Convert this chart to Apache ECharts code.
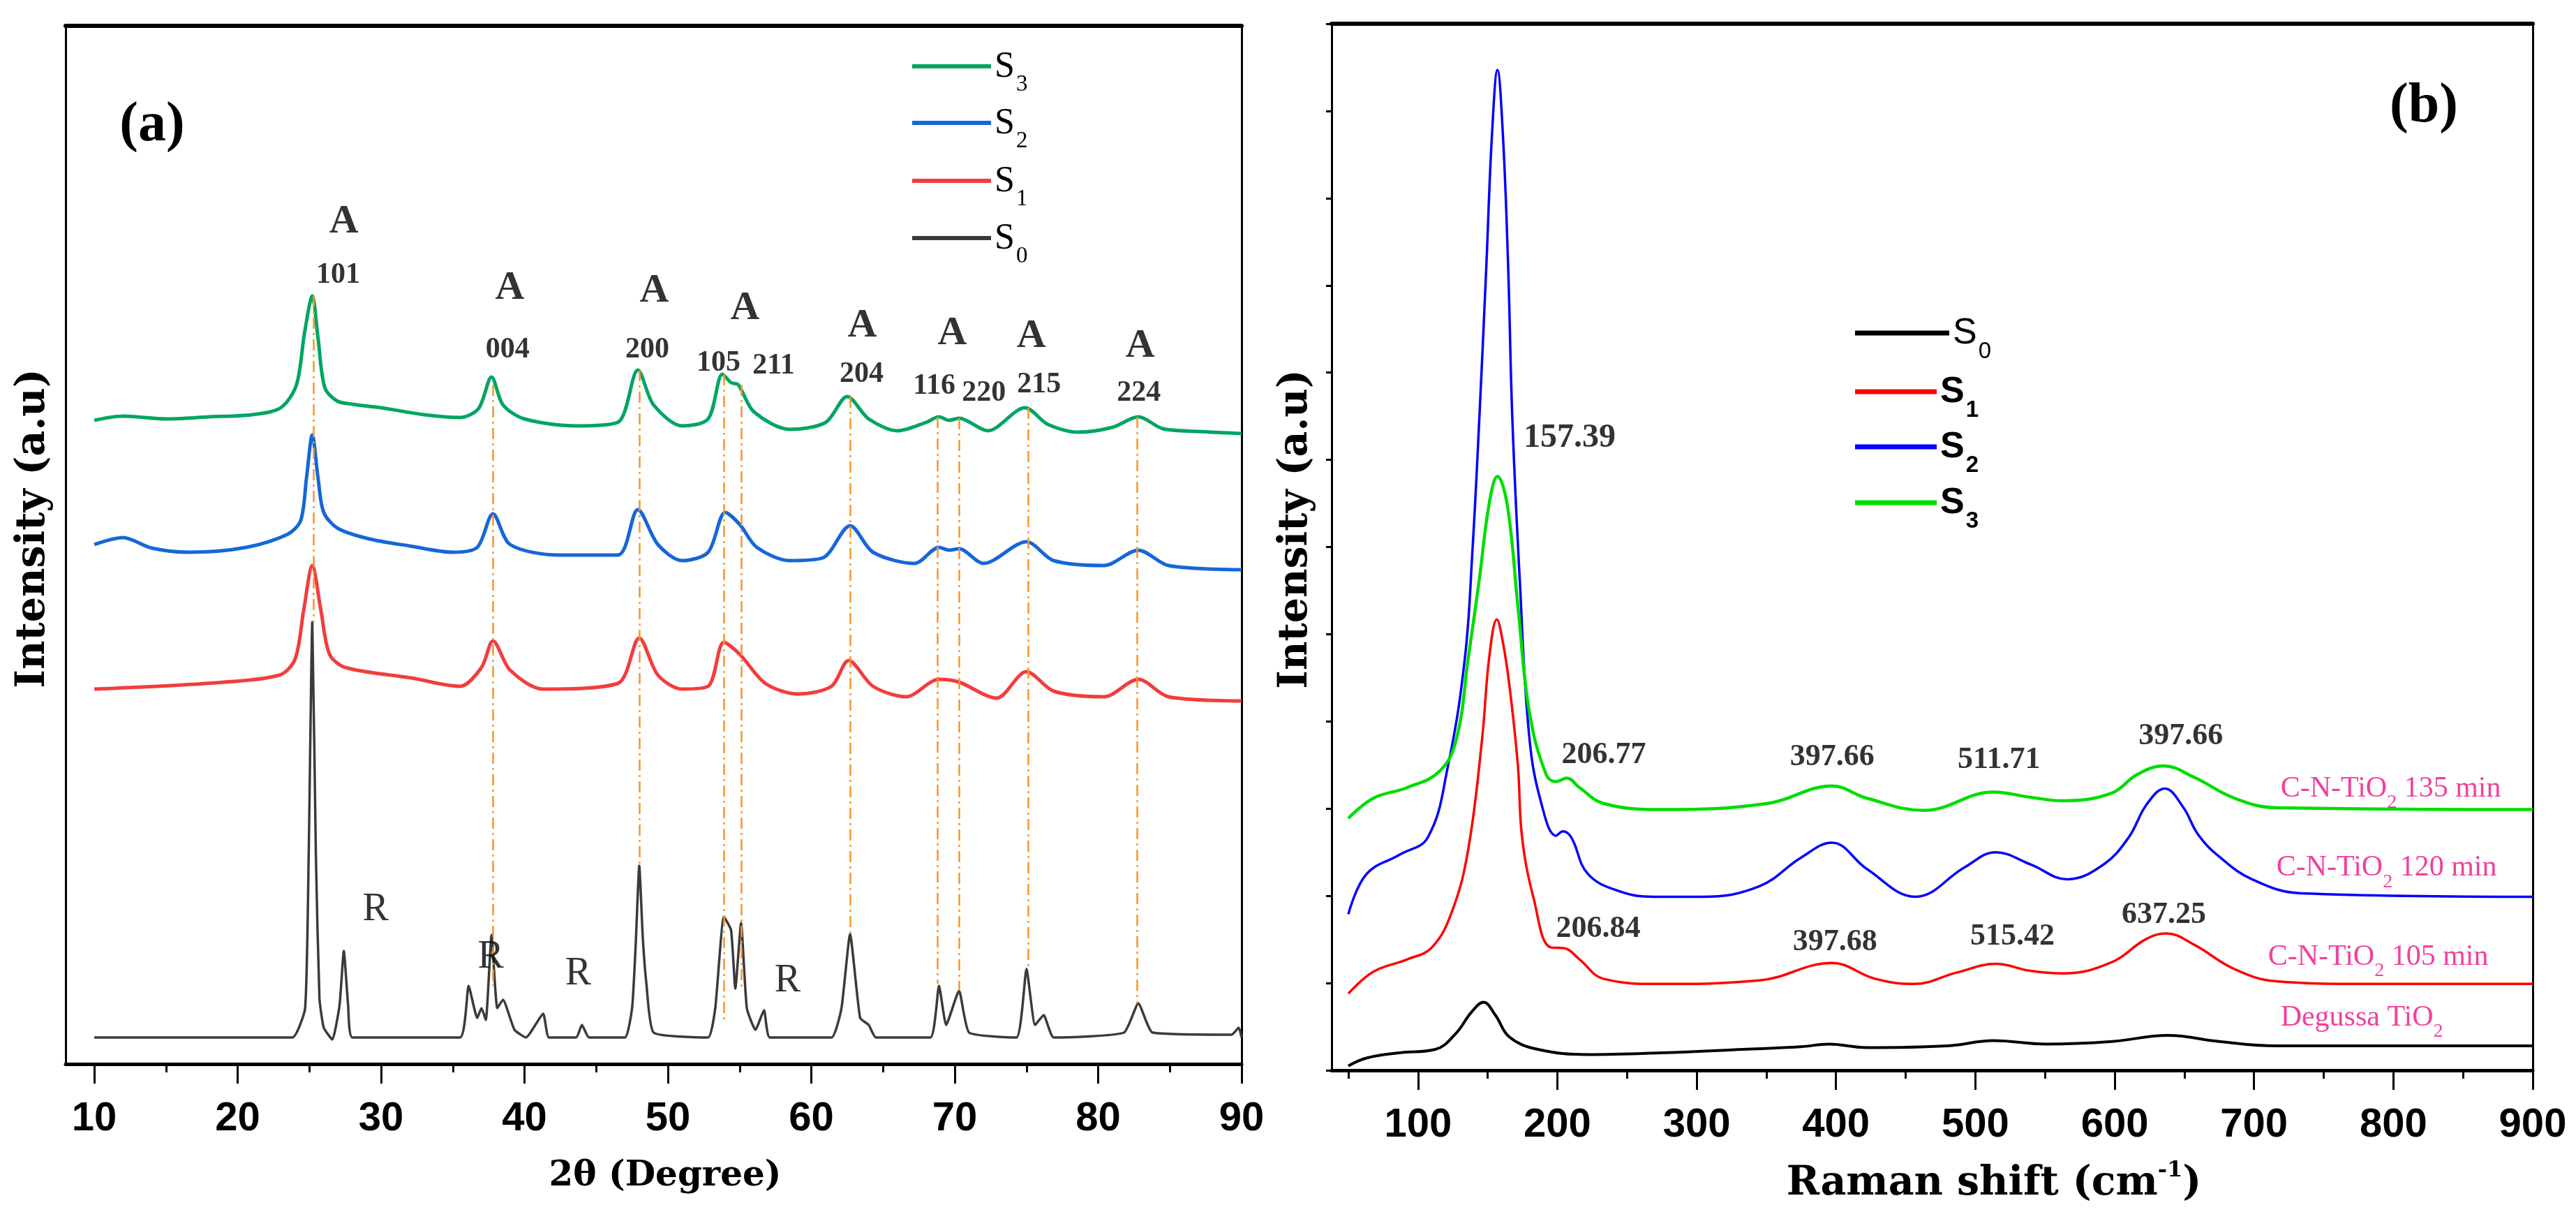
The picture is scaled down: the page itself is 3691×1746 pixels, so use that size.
<!DOCTYPE html>
<html><head><meta charset="utf-8">
<script src="https://cdn.jsdelivr.net/npm/echarts@6/dist/echarts.min.js"></script>
<style>html,body{margin:0;padding:0;background:#fff}#c{width:3691px;height:1746px}</style>
</head><body><div id="c"></div>
<script>
// ---------------- Panel (a): XRD, 2θ (deg) vs intensity (a.u.) ----------------
const xrdS3 = [[10,922],[12,928],[15,924],[18,927],[21,930],[23,940],[24.1,973],[24.65,1046],[25.2,1100],[25.6,1040],[26.07,969],[26.9,950],[28,945],[30,940],[33,930],[35.5,926],[36.8,939],[37.7,984],[38.5,944],[40,924],[43.6,914],[46.5,919],[47.9,994],[49,944],[51,914],[52.8,924],[53.8,988],[54.4,976],[54.9,973],[56,934],[58.5,909],[61,919],[62.5,956],[64,924],[66,907],[68,919],[68.9,927],[69.6,922],[70.3,925],[72.3,907],[74.9,940],[76.5,916],[78.6,905],[81,912],[82.8,927],[84.5,910],[87,906],[90,903]];
const xrdS2 = [[10,744],[12,754],[14,739],[16.6,733],[20.6,740],[23.5,759],[24.4,779],[24.8,840],[25.2,901],[25.6,840],[26,790],[27,767],[29.2,752],[32,742],[35,733],[36.7,740],[37.8,788],[39,744],[42.4,729],[46.5,729],[47.9,794],[49.3,744],[51,721],[52.8,733],[54,790],[55,773],[56.2,740],[58.5,721],[60.8,725],[62.7,771],[64.3,733],[67.2,717],[68.9,740],[69.6,736],[70.3,738],[72,717],[75,748],[76.9,721],[80.4,714],[82.8,736],[84.9,714],[90,708]];
const xrdS1 = [[10,537],[17.7,545],[22.9,557],[24,580],[24.6,650],[25.2,714],[25.8,650],[26.4,587],[27.5,568],[32.1,553],[35.5,541],[37,568],[37.8,606],[39,564],[41.3,537],[46.5,545],[48,610],[49.3,557],[51,537],[52.8,541],[53.9,604],[55,587],[56.8,545],[59.1,530],[61.4,541],[62.6,578],[64.3,541],[66.6,526],[68.9,551],[70.3,547],[72.9,524],[75,562],[76.9,534],[80.4,526],[82.8,551],[84.9,526],[90,520]];
const xrdS0 = [[10,38],[23.8,38],[24.7,80],[24.95,300],[25.2,633],[25.45,300],[25.7,94],[26,52],[26.6,35],[27.1,84],[27.4,162],[27.7,84],[28,38],[35.5,38],[36.1,112],[36.7,66],[37,80],[37.3,63],[37.7,185],[38.1,80],[38.5,92],[39.3,49],[40.1,38],[41.3,72],[41.7,38],[43.6,38],[44,56],[44.5,38],[47,38],[47.5,80],[47.75,170],[48,284],[48.25,180],[48.5,115],[49,45],[52.8,38],[53.3,80],[53.9,211],[54.4,192],[54.7,108],[55.1,202],[55.5,80],[56.1,49],[56.7,77],[57.1,38],[61.4,38],[62.1,80],[62.7,186],[63.4,66],[64,56],[64.5,38],[68.3,38],[68.9,112],[69.4,56],[70.3,105],[71,45],[74.3,38],[75,136],[75.6,56],[76.2,70],[76.9,38],[81.8,45],[82.8,87],[83.8,45],[89.3,42],[89.8,52],[90,38]];
// anatase reference lines: [2θ, top, bottom]
const anataseLines = [[25.3,1100,633],[37.8,973,112],[48,994,284],[53.9,988,59],[55.1,973,108],[62.7,956,185],[68.8,927,115],[70.3,925,105],[75.1,940,136],[82.7,927,87]];
const labelsA = [[27.4,1206,'A'],[38.97,1111,'A'],[49.05,1107,'A'],[55.37,1082,'A'],[63.55,1057,'A'],[69.83,1046,'A'],[75.34,1042,'A'],[82.93,1028,'A']];
const labelsHkl = [[27.0,1130,'101'],[38.82,1023,'004'],[48.56,1023,'200'],[53.53,1004,'105'],[57.37,1000,'211'],[63.5,988,'204'],[68.57,971,'116'],[72.03,961,'220'],[75.87,973,'215'],[82.83,961,'224']];
const labelsR = [[29.62,221,'R'],[37.65,153,'R'],[43.74,129,'R'],[58.34,119,'R']];
const ticksA = [10,20,30,40,50,60,70,80,90];
const minorTicksA = [15,25,35,45,55,65,75,85];

// ---------------- Panel (b): Raman shift (cm-1) vs intensity ----------------
const ramanS0 = [[50,0.05],[63,0.14],[86.5,0.2],[112.5,0.24],[127.6,0.43],[138,0.66],[147,0.78],[155.6,0.63],[165.7,0.38],[186,0.24],[222,0.18],[274,0.2],[333.6,0.24],[374.7,0.27],[395,0.30],[422,0.26],[480,0.28],[513,0.34],[551,0.30],[598,0.33],[638,0.40],[675,0.33],[716,0.28],[804,0.28],[900,0.28]];
const ramanS1 = [[50,0.88],[68,1.13],[92,1.27],[110,1.41],[124.6,1.83],[136,2.53],[146,3.80],[151,4.72],[156.6,5.17],[161,4.9],[165.7,4.40],[171.7,3.49],[174.7,2.67],[183,1.97],[195,1.41],[205,1.40],[216,1.27],[233,1.05],[274,0.99],[345,1.03],[397,1.23],[428,1.05],[456,0.99],[486.5,1.12],[514.5,1.22],[539.6,1.14],[563,1.11],[598,1.24],[622,1.50],[637,1.57],[657,1.44],[686,1.16],[716,1.02],[775,0.99],[900,0.99]];
const ramanS2 = [[50,1.79],[63,2.25],[86.5,2.47],[107,2.67],[121.5,3.49],[133.6,4.72],[139,5.94],[144,7.47],[149,9.21],[153,10.7],[157,11.47],[161,10.7],[164.7,9.21],[167.7,7.47],[173,5.63],[180,3.80],[189,3.03],[199,2.69],[204,2.74],[210,2.67],[222,2.25],[245,2.05],[269,1.99],[304,1.99],[345,2.11],[375,2.44],[397,2.61],[422,2.31],[457,1.99],[492.5,2.33],[514.5,2.50],[539.6,2.36],[566,2.19],[592,2.36],[610,2.67],[623,3.05],[636,3.23],[649,3.02],[660,2.70],[675,2.45],[698.5,2.19],[733.6,2.03],[900,1.99]];
const ramanS3 = [[50,2.89],[68,3.12],[92,3.24],[115.5,3.43],[127.6,3.80],[136,4.72],[144,5.63],[151,6.49],[157,6.81],[164,6.49],[171.7,5.32],[180,4.10],[192,3.39],[199,3.31],[206.8,3.35],[216,3.24],[233,3.06],[274,2.99],[351,3.06],[397,3.26],[422,3.12],[463,2.98],[513,3.19],[539.6,3.13],[563,3.09],[598,3.18],[616,3.39],[635,3.49],[657,3.36],[686,3.12],[716,3.01],[900,2.99]];
const mainPeakLabelB = [[208.8,7.25,'157.39']];
const peakLabelsB = [[233.3,3.61,'206.77'],[397.2,3.59,'397.66'],[517,3.56,'511.71'],[647.4,3.83,'397.66'],[229.3,1.62,'206.84'],[399.2,1.47,'397.68'],[526.6,1.53,'515.42'],[635.3,1.78,'637.25']];
const sampleLabelsB = [[719,3.23,'C-N-TiO{sb|2} 135 min'],[716,2.32,'C-N-TiO{sb|2} 120 min'],[710,1.30,'C-N-TiO{sb|2} 105 min'],[719,0.60,'Degussa TiO{sb|2}']];
const ticksB = [100,200,300,400,500,600,700,800,900];
const minorTicksB = [50,150,250,350,450,550,650,750,850];

// ---------------- build ----------------
const chart = echarts.init(document.getElementById('c'), null, {renderer:'canvas', width:3691, height:1746});
const SERIF = '"Liberation Serif", "Times New Roman", serif';
const TSERIF = '"DejaVu Serif", serif';
const SANS = '"Liberation Sans", Arial, sans-serif';

function lineS(name, data, color, width, xi, yi, smooth, z){
  return {type:'line', name, data, xAxisIndex:xi, yAxisIndex:yi, showSymbol:false, symbol:'none',
    smooth, lineStyle:{color, width}, itemStyle:{color}, silent:true, z:z||3};
}
function textS(arr, xi, yi, label, extra){
  return Object.assign({type:'scatter', xAxisIndex:xi, yAxisIndex:yi, symbolSize:1,
    itemStyle:{color:'rgba(0,0,0,0)'}, silent:true, z:6,
    data: arr.map(d=>({value:[d[0],d[1]], name:d[2]})),
    label:Object.assign({show:true, position:'inside', formatter:p=>p.name, color:'#000'}, label)}, extra||{});
}
function xAxes(gi, min, max, major, minor, labelSize){
  return [
    {gridIndex:gi, type:'value', min, max, position:'bottom',
     axisLine:{show:true, onZero:false, lineStyle:{color:'#000', width:5}},
     axisTick:{show:true, customValues:major, length:28, lineStyle:{color:'#000', width:3}},
     axisLabel:{show:true, customValues:major, margin:50, fontSize:labelSize, fontFamily:SANS, fontWeight:'bold', color:'#000'},
     splitLine:{show:false}},
    {gridIndex:gi, type:'value', min, max, position:'bottom',
     axisLine:{show:false, onZero:false},
     axisTick:{show:true, customValues:minor, length:12, lineStyle:{color:'#000', width:3}},
     axisLabel:{show:false}, splitLine:{show:false}},
    {gridIndex:gi, type:'value', min, max, position:'top',
     axisLine:{show:true, onZero:false, lineStyle:{color:'#000', width:6}},
     axisTick:{show:false}, axisLabel:{show:false}, splitLine:{show:false}}
  ];
}
function legendItem(name, left, centerY, w, h, fam, bold){
  const k = name.slice(-1);
  return {show:true, data:[{name, icon:'rect'}], left, top:centerY-27, padding:0, orient:'vertical',
    itemWidth:w, itemHeight:h, itemGap:0, selectedMode:false,
    formatter:()=>'{s|S}{sub|'+k+'}',
    textStyle:{rich:{
      s:{fontSize:52, fontFamily:fam, fontWeight: bold ? 'bold':'normal', color:'#000', lineHeight:54, verticalAlign:'bottom'},
      sub:{fontSize:33, fontFamily:fam, fontWeight: bold ? 'bold':'normal', color:'#000', lineHeight:30, verticalAlign:'bottom', padding:[0,0,-16,2]}
    }}};
}

const option = {
  backgroundColor:'#fff',
  animation:false,
  grid:[
    {left:94, right:3691-1779, top:37, bottom:1746-1524, outerBoundsMode:'none', containLabel:false},
    {left:1908, right:3691-3629, top:34, bottom:1746-1533, outerBoundsMode:'none', containLabel:false}
  ],
  xAxis:[].concat(xAxes(0, 8, 90, ticksA, minorTicksA, 58), xAxes(1, 38, 900, ticksB, minorTicksB, 58)),
  yAxis:[
    {gridIndex:0, type:'value', min:0, max:1487, position:'left',
     axisLine:{show:true, onZero:false, lineStyle:{color:'#000', width:3}}, axisTick:{show:false}, axisLabel:{show:false}, splitLine:{show:false}},
    {gridIndex:0, type:'value', min:0, max:1487, position:'right',
     axisLine:{show:true, onZero:false, lineStyle:{color:'#000', width:3}}, axisTick:{show:false}, axisLabel:{show:false}, splitLine:{show:false}},
    {gridIndex:1, type:'value', min:0, max:12, interval:1, position:'left',
     axisLine:{show:true, onZero:false, lineStyle:{color:'#000', width:3}}, axisTick:{show:true, inside:false, length:8, lineStyle:{color:'#000', width:3}}, axisLabel:{show:false}, splitLine:{show:false}},
    {gridIndex:1, type:'value', min:0, max:12, position:'right',
     axisLine:{show:true, onZero:false, lineStyle:{color:'#000', width:3}}, axisTick:{show:false}, axisLabel:{show:false}, splitLine:{show:false}}
  ],
  legend:[
    legendItem('a-S3', 1307, 97, 113, 6, SERIF, false),
    legendItem('a-S2', 1307, 178, 113, 6, SERIF, false),
    legendItem('a-S1', 1307, 261, 113, 6, SERIF, false),
    legendItem('a-S0', 1307, 343, 113, 6, SERIF, false),
    legendItem('b-S0', 2658, 479, 135, 7, SANS, false),
    legendItem('b-S1', 2658, 563, 117, 7, SANS, true),
    legendItem('b-S2', 2658, 642, 117, 7, SANS, true),
    legendItem('b-S3', 2658, 722, 117, 7, SANS, true)
  ],
  series:[
    lineS('a-S0', xrdS0, '#3a3a3a', 3.5, 0, 0, 0.15),
    lineS('a-S1', xrdS1, '#f23d3d', 5, 0, 0, 0.3),
    lineS('a-S2', xrdS2, '#1567d8', 5, 0, 0, 0.3),
    lineS('a-S3', xrdS3, '#00a562', 5, 0, 0, 0.3),
    textS(labelsA, 0, 0, {fontSize:58, fontFamily:SERIF, fontWeight:'bold'}),
    textS(labelsHkl, 0, 0, {fontSize:42, fontFamily:SERIF, fontWeight:'bold'}),
    textS(labelsR, 0, 0, {fontSize:56, fontFamily:SERIF}, {
      markLine:{silent:true, symbol:['none','none'], label:{show:false}, z:4,
        lineStyle:{color:'#f7952a', width:2.5, type:[16,6,3,6]},
        data: anataseLines.map(d=>[{coord:[d[0],d[1]]},{coord:[d[0],d[2]]}])}
    }),
    lineS('b-S0', ramanS0, '#000000', 4, 3, 2, 0.4),
    lineS('b-S1', ramanS1, '#ff0000', 3.5, 3, 2, 0.4),
    lineS('b-S2', ramanS2, '#0000ff', 3.5, 3, 2, 0.4),
    lineS('b-S3', ramanS3, '#00dd00', 4.5, 3, 2, 0.4),
    textS(mainPeakLabelB, 3, 2, {fontSize:48, fontFamily:SERIF, fontWeight:'bold'}),
    textS(peakLabelsB, 3, 2, {fontSize:44, fontFamily:SERIF, fontWeight:'bold'}),
    textS(sampleLabelsB, 3, 2, {fontSize:42, fontFamily:SERIF, color:'#ee1285', align:'left', lineHeight:48,
      rich:{sb:{fontSize:28, fontFamily:SERIF, color:'#ee1285', lineHeight:24, verticalAlign:'bottom', padding:[0,0,-10,0]}}})
  ],
  graphic:[
    {type:'text', x:218, y:180, style:{text:'(a)', fontSize:80, fontFamily:SERIF, fontWeight:'bold', fill:'#000', align:'center', verticalAlign:'middle'}},
    {type:'text', x:3473, y:153, style:{text:'(b)', fontSize:80, fontFamily:SERIF, fontWeight:'bold', fill:'#000', align:'center', verticalAlign:'middle'}},
    {type:'text', x:48, y:757, rotation:Math.PI/2, style:{text:'Intensity (a.u)', fontSize:57, fontFamily:TSERIF, fontWeight:'bold', fill:'#000', align:'center', verticalAlign:'middle'}},
    {type:'text', x:1857, y:758, rotation:Math.PI/2, style:{text:'Intensity (a.u)', fontSize:57, fontFamily:TSERIF, fontWeight:'bold', fill:'#000', align:'center', verticalAlign:'middle'}},
    {type:'text', x:953, y:1685, style:{text:'2θ (Degree)', fontSize:50, fontFamily:TSERIF, fontWeight:'bold', fill:'#000', align:'center', verticalAlign:'middle'}},
    {type:'text', x:2857, y:1696, style:{text:'Raman shift (cm{sup|-1})', fontSize:57, fontFamily:TSERIF, fontWeight:'bold', fill:'#000', align:'center', verticalAlign:'middle', lineHeight:70,
      rich:{sup:{fontSize:32, fontFamily:TSERIF, fontWeight:'bold', fill:'#000', lineHeight:34, verticalAlign:'top'}}}}
  ]
};
chart.setOption(option);
</script>
</body></html>
